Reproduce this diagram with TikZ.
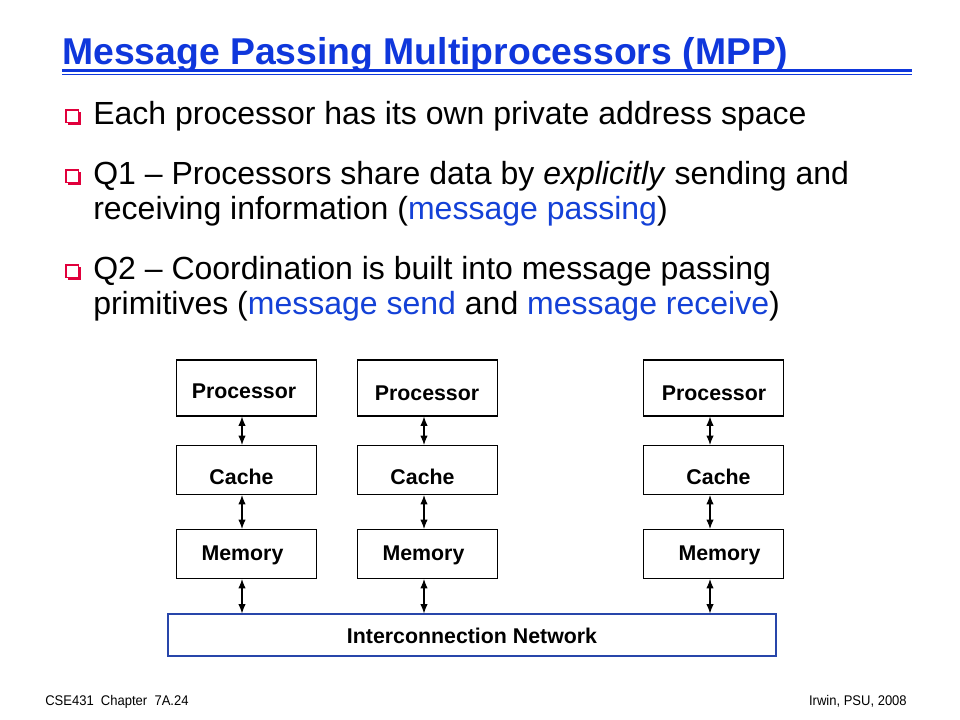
\documentclass[tikz,border=0pt]{standalone}
\usepackage{fontspec}
\setmainfont{Liberation Sans}
\usetikzlibrary{arrows.meta}
\definecolor{titleblue}{RGB}{15,55,220}
\definecolor{hiblue}{RGB}{20,65,215}
\definecolor{bulred}{RGB}{225,0,60}
\definecolor{netblue}{RGB}{40,70,170}
\tikzset{
  bodytext/.style={anchor=base west,inner sep=0pt,font=\fontsize{24}{29}\selectfont},
  unitbox/.style={draw=black,line width=0.8pt,minimum width=140*0.75pt,minimum height=49*0.75pt,inner sep=0pt},
  procbox/.style={unitbox,minimum height=56*0.75pt},
  boxlabel/.style={inner sep=0pt,font=\fontsize{16}{19}\bfseries\selectfont},
  link/.style={line width=0.8pt,{Latex[length=7pt,width=5.5pt]}-{Latex[length=7pt,width=5.5pt]}},
  footer/.style={inner sep=0pt,anchor=base,font=\fontsize{10.5}{12}\selectfont}
}
\newcommand{\slidebullet}[2]{%
  \fill[bulred] (#1+2,#2+2) rectangle (#1+15,#2+15);
  \fill[white] (#1,#2) rectangle (#1+12.5,#2+12.5);
  \draw[bulred,line width=0.8pt] (#1,#2) rectangle (#1+12.5,#2+12.5);
}
\begin{document}
\begin{tikzpicture}[x=0.75pt,y=-0.75pt]
\useasboundingbox[fill=white] (0,0) rectangle (960,720);
% title
\node[anchor=base west,inner sep=0pt,text=titleblue,font=\fontsize{28}{33}\bfseries\selectfont] (title) at (62,65) {Message Passing Multiprocessors (MPP)};
\draw[titleblue,line width=2.6pt] (62,70.5) -- (912,70.5);
\draw[titleblue,line width=0.8pt] (62,74.8) -- (912,74.8);
% bullets
\slidebullet{66}{110}
\slidebullet{66}{170}
\slidebullet{66}{265}
\node[bodytext] (b1) at (93,125) {Each processor has its own private address space};
\node[bodytext] (b2a) at (93,185) {Q1 – Processors share data by \textit{explicitly} sending and};
\node[bodytext] (b2b) at (93,220) {receiving information (\textcolor{hiblue}{message passing})};
\node[bodytext] (b3a) at (93,280) {Q2 – Coordination is built into message passing};
\node[bodytext] (b3b) at (93,315) {primitives (\textcolor{hiblue}{message send} and \textcolor{hiblue}{message receive})};
% boxes
\node[procbox] (p1) at (246.5,388) {};
\node[procbox] (p2) at (427.5,388) {};
\node[procbox] (p3) at (713.5,388) {};
\node[unitbox] (c1) at (246.5,470) {};
\node[unitbox] (c2) at (427.5,470) {};
\node[unitbox] (c3) at (713.5,470) {};
\node[unitbox] (m1) at (246.5,554) {};
\node[unitbox] (m2) at (427.5,554) {};
\node[unitbox] (m3) at (713.5,554) {};
\node[draw=netblue,line width=0.8pt,minimum width=608*0.75pt,minimum height=42*0.75pt,inner sep=0pt] (net) at (472,635) {};
% labels
\node[boxlabel] (lp1) at (244,391) {Processor};
\node[boxlabel] (lp2) at (427,393) {Processor};
\node[boxlabel] (lp3) at (714,393) {Processor};
\node[boxlabel] (lc1) at (241.5,477) {Cache};
\node[boxlabel] (lc2) at (422.5,477) {Cache};
\node[boxlabel] (lc3) at (718.5,477) {Cache};
\node[boxlabel] (lm1) at (242.5,555) {Memory};
\node[boxlabel] (lm2) at (423.5,555) {Memory};
\node[boxlabel] (lm3) at (719.5,555) {Memory};
\node[boxlabel] (lnet) at (472,636) {Interconnection Network};
% connectors
\foreach \c/\x in {1/242,2/424,3/710}{
  \draw[link] (p\c.south -| \x,0) -- (c\c.north -| \x,0);
  \draw[link] (c\c.south -| \x,0) -- (m\c.north -| \x,0);
  \draw[link] (m\c.south -| \x,0) -- (net.north -| \x,0);
}
% footer
\node[footer,anchor=base west] (fl) at (45,705) {\scalebox{0.93}[1]{CSE431\ \ Chapter\ \ 7A.24}};
\node[footer,anchor=base east] (fr) at (907,705) {\scalebox{0.93}[1]{Irwin, PSU, 2008}};
\end{tikzpicture}
\end{document}
